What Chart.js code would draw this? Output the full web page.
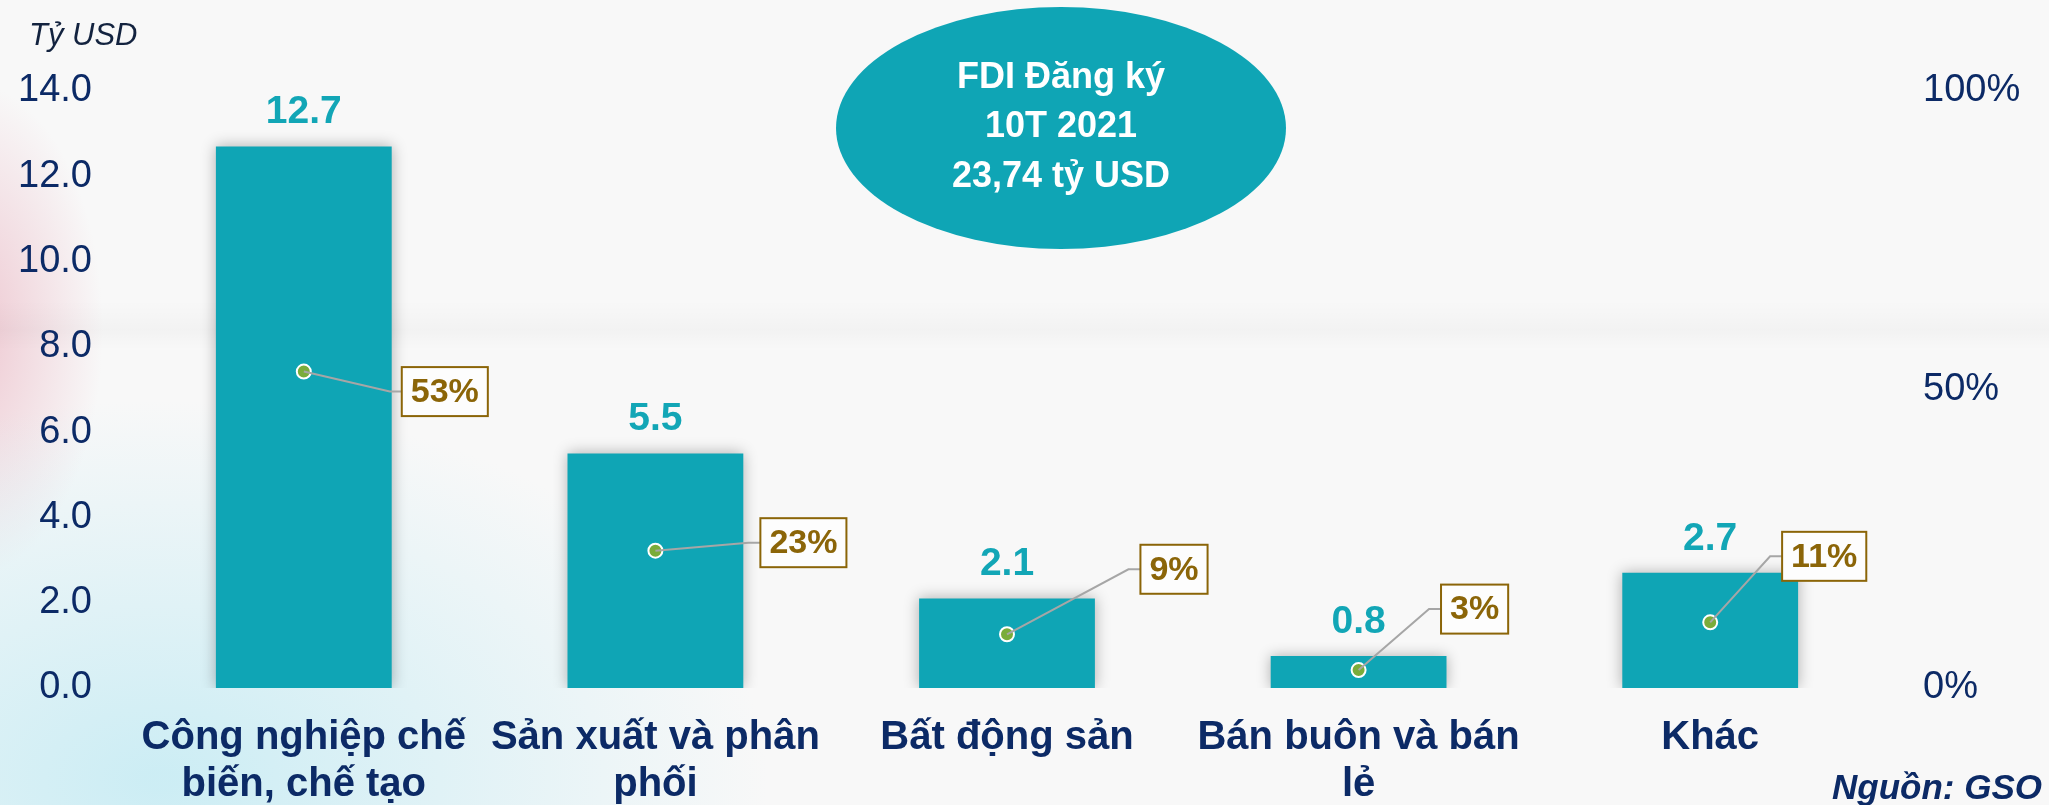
<!DOCTYPE html>
<html>
<head>
<meta charset="utf-8">
<script src="https://cdn.jsdelivr.net/npm/chart.js@4.4.0/dist/chart.umd.min.js"></script>
<style>
html,body{margin:0;padding:0;background:#f8f8f8;overflow:hidden;}
#wrap{width:2049px;height:805px;position:relative;}
</style>
</head>
<body>
<div id="wrap"><canvas id="c"></canvas></div>
<script>
// ---- data ----
const categories = [
  ['Công nghiệp chế', 'biến, chế tạo'],
  ['Sản xuất và phân', 'phối'],
  'Bất động sản',
  ['Bán buôn và bán', 'lẻ'],
  'Khác'
];
const investmentBn = [12.7, 5.5, 2.1, 0.75, 2.7];   // tỷ USD
const sharePct = [53, 23, 9, 3, 11];                // %
const leftAxisMax = 14;
const leftAxisStep = 2;
const rightAxisTicks = [0, 50, 100];
const unitLabel = 'Tỷ USD';
const sourceLabel = 'Nguồn: GSO';
const bubbleLines = ['FDI Đăng ký', '10T 2021', '23,74 tỷ USD'];

// ---- layout / style (not data) ----
const FONT = "'Liberation Sans', Arial, Helvetica, sans-serif";
const NAVY = '#0c2a66';
const TEAL = '#0fa5b5';
const OLIVE = '#8b6508';
const shareBoxOffsets = [[141, 20], [148, -8], [167, -65], [116, -61], [114, -66]];

const bgPlugin = {
  id: 'bg',
  beforeDraw(chart) {
    const ctx = chart.ctx, W = chart.width, H = chart.height;
    ctx.save();
    ctx.fillStyle = '#f8f8f8';
    ctx.fillRect(0, 0, W, H);
    ctx.save();
    ctx.translate(-30, 330); ctx.scale(0.7, 1.3);
    let g = ctx.createRadialGradient(0, 0, 10, 0, 0, 190);
    g.addColorStop(0, 'rgba(232,170,185,0.6)');
    g.addColorStop(1, 'rgba(232,170,185,0)');
    ctx.fillStyle = g; ctx.fillRect(-300, -300, 600, 600);
    ctx.restore();
    ctx.save();
    ctx.translate(160, 780); ctx.scale(1.6, 1);
    g = ctx.createRadialGradient(0, 0, 10, 0, 0, 380);
    g.addColorStop(0, 'rgba(200,236,244,0.9)');
    g.addColorStop(1, 'rgba(200,236,244,0)');
    ctx.fillStyle = g; ctx.fillRect(-200, -500, 1400, 600);
    ctx.restore();
    g = ctx.createLinearGradient(0, 300, 0, 350);
    g.addColorStop(0, 'rgba(0,0,0,0)');
    g.addColorStop(0.6, 'rgba(0,0,0,0.022)');
    g.addColorStop(1, 'rgba(0,0,0,0)');
    ctx.fillStyle = g; ctx.fillRect(0, 300, W, 50);
    ctx.restore();
  }
};

const shadowPlugin = {
  id: 'barShadow',
  beforeDatasetDraw(chart, args) {
    if (chart.data.datasets[args.index].type === 'bar') {
      const ctx = chart.ctx;
      ctx.save();
      ctx.shadowColor = 'rgba(0,0,0,0.3)';
      ctx.shadowBlur = 14;
      ctx.shadowOffsetX = 0;
      ctx.shadowOffsetY = 0;
    }
  },
  afterDatasetDraw(chart, args) {
    if (chart.data.datasets[args.index].type === 'bar') chart.ctx.restore();
  }
};

const annotPlugin = {
  id: 'annot',
  afterDatasetsDraw(chart) {
    const ctx = chart.ctx;
    const barMeta = chart.getDatasetMeta(1);
    const dotMeta = chart.getDatasetMeta(0);
    ctx.save();
    // values above bars
    ctx.font = 'bold 39px ' + FONT;
    ctx.fillStyle = '#12a6b6';
    ctx.textAlign = 'center';
    ctx.textBaseline = 'middle';
    barMeta.data.forEach((bar, i) => {
      ctx.fillText(investmentBn[i].toFixed(1), bar.x, bar.y - 34);
    });
    // share labels with leader lines
    ctx.font = 'bold 34px ' + FONT;
    dotMeta.data.forEach((pt, i) => {
      const txt = sharePct[i] + '%';
      const w = ctx.measureText(txt).width + 18;
      const h = 49;
      const cx = pt.x + shareBoxOffsets[i][0];
      const cy = pt.y + shareBoxOffsets[i][1];
      const left = cx - w / 2;
      ctx.strokeStyle = '#a6a6a6';
      ctx.lineWidth = 2;
      ctx.beginPath();
      ctx.moveTo(pt.x, pt.y);
      ctx.lineTo(left - 12, cy);
      ctx.lineTo(left, cy);
      ctx.stroke();
      ctx.fillStyle = '#fdfdfd';
      ctx.fillRect(left, cy - h / 2, w, h);
      ctx.strokeStyle = OLIVE;
      ctx.lineWidth = 2;
      ctx.strokeRect(left, cy - h / 2, w, h);
      ctx.fillStyle = OLIVE;
      ctx.fillText(txt, cx, cy + 1);
    });
    ctx.restore();
  },
  afterDraw(chart) {
    const ctx = chart.ctx;
    ctx.save();
    // bubble
    ctx.fillStyle = TEAL;
    ctx.beginPath();
    ctx.ellipse(1061, 128, 225, 121, 0, 0, Math.PI * 2);
    ctx.fill();
    ctx.fillStyle = '#ffffff';
    ctx.font = 'bold 36px ' + FONT;
    ctx.textAlign = 'center';
    ctx.textBaseline = 'middle';
    bubbleLines.forEach((t, i) => ctx.fillText(t, 1061, 78 + i * 49.5));
    // unit label
    ctx.font = 'italic 31px ' + FONT;
    ctx.fillStyle = '#13233f';
    ctx.textAlign = 'left';
    ctx.fillText(unitLabel, 29, 36);
    // source
    ctx.font = 'italic bold 35px ' + FONT;
    ctx.fillStyle = NAVY;
    ctx.textAlign = 'right';
    ctx.fillText(sourceLabel, 2042, 789);
    ctx.restore();
  }
};

new Chart(document.getElementById('c'), {
  data: {
    labels: categories,
    datasets: [
      {
        type: 'line',
        label: 'Tỷ trọng',
        data: sharePct,
        yAxisID: 'y1',
        showLine: false,
        order: 0,
        pointRadius: 7,
        pointBackgroundColor: '#7aac3a',
        pointBorderColor: '#ffffff',
        pointBorderWidth: 2
      },
      {
        type: 'bar',
        label: 'FDI đăng ký',
        data: investmentBn,
        yAxisID: 'y',
        order: 1,
        backgroundColor: TEAL,
        categoryPercentage: 1,
        barPercentage: 0.5
      }
    ]
  },
  options: {
    responsive: true,
    maintainAspectRatio: false,
    animation: false,
    devicePixelRatio: 1,
    layout: { padding: { top: 91, left: 0, right: 0, bottom: 0 } },
    plugins: { legend: { display: false }, tooltip: { enabled: false } },
    scales: {
      x: {
        grid: { display: false, drawTicks: false },
        border: { display: false },
        ticks: {
          color: NAVY,
          font: { family: FONT, size: 40, weight: 'bold', lineHeight: 1.175 },
          padding: 26,
          autoSkip: false,
          maxRotation: 0,
          minRotation: 0
        },
        afterFit(s) { s.height = 117; }
      },
      y: {
        position: 'left',
        min: 0,
        max: leftAxisMax,
        grid: { display: false, drawTicks: false },
        border: { display: false },
        ticks: {
          stepSize: leftAxisStep,
          color: NAVY,
          font: { family: FONT, size: 38 },
          padding: 36,
          callback: v => Number(v).toFixed(1)
        },
        afterFit(s) { s.width = 128; }
      },
      y1: {
        position: 'right',
        min: rightAxisTicks[0],
        max: rightAxisTicks[rightAxisTicks.length - 1],
        grid: { display: false, drawTicks: false },
        border: { display: false },
        afterBuildTicks(s) { s.ticks = rightAxisTicks.map(v => ({ value: v })); },
        ticks: {
          color: NAVY,
          font: { family: FONT, size: 38 },
          padding: 37,
          callback: v => v + '%'
        },
        afterFit(s) { s.width = 163; }
      }
    }
  },
  plugins: [bgPlugin, shadowPlugin, annotPlugin]
});
</script>
</body>
</html>
